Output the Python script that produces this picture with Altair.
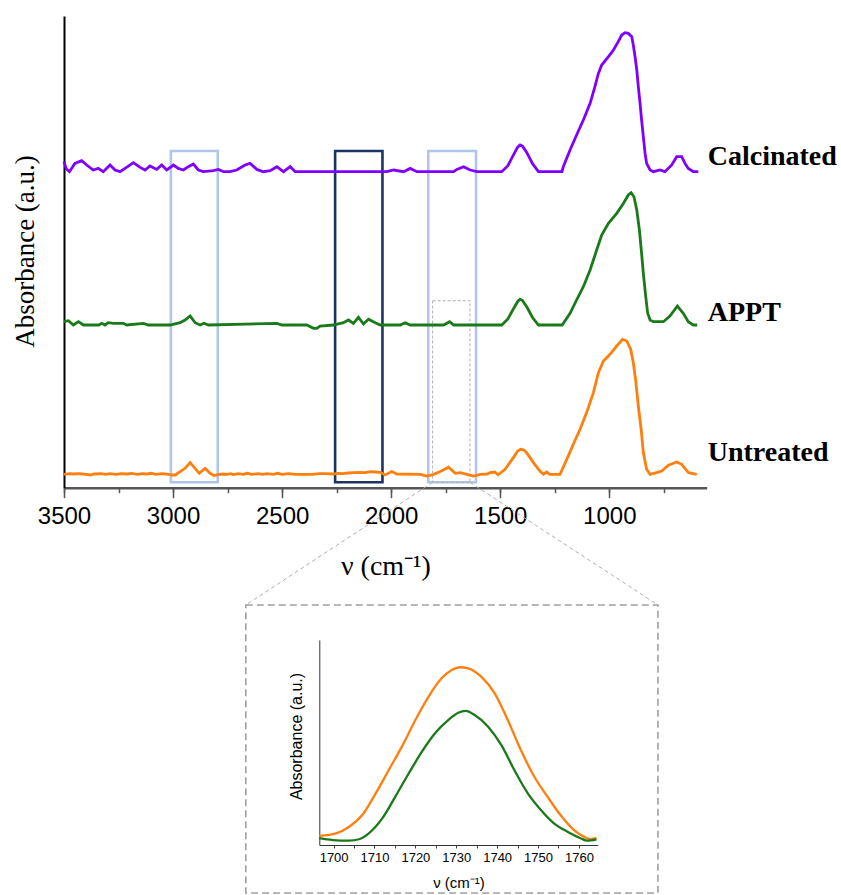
import altair as alt
import pandas as pd

# ---------------- data ----------------
# Main FTIR spectra: wavenumber (cm-1) and absorbance above each trace's own baseline (a.u.)
calc_nu = [3500, 3490, 3475, 3450, 3419, 3396, 3366, 3343, 3320, 3289,
           3266, 3243, 3220, 3182, 3151, 3128, 3106, 3075, 3052, 3029,
           2998, 2976, 2953, 2930, 2907, 2884, 2861, 2815, 2792, 2769,
           2739, 2708, 2670, 2647, 2616, 2586, 2555, 2524, 2494, 2463,
           2440, 2417, 2387, 2020, 1989, 1943, 1913, 1882, 1714, 1699,
           1668, 1638, 1607, 1493, 1465, 1440, 1420, 1409, 1398, 1378,
           1352, 1325, 1217, 1211, 1180, 1150, 1119, 1088, 1066, 1050,
           1035, 1004, 981, 959, 943, 928, 913, 897, 890, 882,
           874, 867, 859, 852, 844, 836, 829, 813, 798, 768,
           745, 714, 691, 668, 653, 638, 615, 592]
calc_abs = [10, 3, 0, 8.3, 11, 6.7, 1.7, 3.3, 0, 6.7,
            1.7, 0, 3.3, 9, 4.3, 1.7, 5.7, 2.3, 6.7, 1.7,
            6.7, 3.3, 1.7, 5, 7.7, 1.7, 0, 1, 2.3, 0,
            0, 1.7, 6.7, 8.3, 2.3, 0, 1, 5, 0, 5,
            0, 0, 0, 0, 1.7, 0, 3.3, 0, 0, 2.3,
            5, 1.7, 0, 0, 6, 16.5, 24.5, 26.7, 25.5, 19,
            8, 0, 0, 5, 21.7, 36.7, 51.7, 68.3, 85, 98.3,
            106.7, 115, 121.7, 130, 136.7, 139, 138.3, 135, 126.7, 115,
            101.7, 85, 68.3, 51.7, 35, 18.3, 8.3, 1.7, 0, 1.7,
            0, 6.7, 15, 15, 8.3, 3.3, 0, 0]

appt_nu = [3500, 3480, 3457, 3434, 3411, 3340, 3327, 3312, 3297, 3274,
           3250, 3228, 3213, 3136, 3113, 3014, 2968, 2945, 2922, 2899,
           2876, 2858, 2838, 2524, 2501, 2387, 2356, 2341, 2326, 2265,
           2219, 2196, 2173, 2150, 2127, 2104, 2073, 2050, 1959, 1936,
           1913, 1760, 1732, 1714, 1493, 1465, 1440, 1420, 1409, 1398,
           1378, 1352, 1325, 1216, 1180, 1150, 1119, 1088, 1058, 1035,
           1004, 966, 935, 913, 900, 887, 874, 862, 852, 844,
           833, 824, 813, 798, 752, 722, 688, 661, 638, 615,
           597]
appt_abs = [3.3, 4.3, 0, 3.3, 0, 0, 1.7, 0, 2.3, 1.7,
            1.7, 1.7, 0, 1.7, 0, 0, 2.3, 5, 9, 2.3,
            0, 1.7, 0, 1.7, 0, 0, -3.3, -3.3, -1, 0,
            2.3, 5, 1.7, 7.7, 1, 5.7, 2.3, 0, 0, 2.3,
            0, 0, 3.3, 0, 0, 6, 16, 23.5, 25.7, 24.5,
            18, 7.5, 0, 0, 11.7, 25, 38.3, 55, 75, 90,
            101.7, 111.7, 121.7, 130, 132.3, 128.3, 115, 95, 71.7, 51.7,
            28.3, 11.7, 5, 3.3, 3.3, 9, 19, 11.7, 3.3, 0,
            0]

untr_nu = [3500, 3475, 3457, 3430, 3400, 3380, 3360, 3330, 3310, 3290,
           3260, 3240, 3210, 3190, 3165, 3140, 3120, 3100, 3080, 3050,
           3020, 3006, 2990, 2968, 2945, 2922, 2899, 2880, 2853, 2830,
           2812, 2790, 2770, 2750, 2735, 2725, 2700, 2680, 2660, 2640,
           2610, 2590, 2570, 2540, 2520, 2500, 2470, 2440, 2420, 2360,
           2330, 2300, 2265, 2240, 2219, 2200, 2173, 2142, 2120, 2096,
           2073, 2050, 2028, 1997, 1974, 1867, 1836, 1806, 1775, 1737,
           1706, 1683, 1653, 1622, 1592, 1560, 1547, 1525, 1510, 1478,
           1440, 1420, 1406, 1392, 1379, 1348, 1318, 1302, 1287, 1272,
           1226, 1195, 1165, 1134, 1104, 1073, 1050, 1027, 997, 966,
           939, 920, 902, 890, 878, 867, 854, 844, 829, 813,
           783, 760, 729, 691, 668, 638, 599]
untr_abs = [0, 0.7, 0.3, 0.7, 0, -0.7, 0.3, 0.7, 0, 0.7,
            0, 0.7, 0.3, 1, 0, 0.7, 0.3, 1, 0, 0.7,
            0, -0.7, -0.7, 2.7, 6, 11.7, 6, 1, 6, 1,
            -1.3, 0, 0.3, 0, 0.7, -0.3, 0.7, 0, 1, 0,
            0.7, 0, 0.7, 0, 1, 0, 0.7, 0, 0, 0,
            0.7, 0.7, 0.3, 1, 0.7, 1.3, 1.7, 2, 1.7, 2.7,
            2.3, 2, -0.7, 2.7, 0.3, 0, -1.7, 0, 2.7, 7,
            1, 1.7, 0, -1.7, 0, 0.3, 1.7, 2.3, -0.5, 5,
            16.7, 23.3, 25, 24.3, 21.7, 11.7, 3.3, 0, 2.3, 0,
            0, 15, 30, 45, 61.7, 81.7, 101.7, 113.3, 120, 128.3,
            135, 133.3, 125, 111.7, 91.7, 68.3, 45, 21.7, 5, 0,
            1.7, 3.3, 9, 12.3, 10, 1.7, 0]

series_names = ["Calcinated", "APPT", "Untreated"]
series_colors = ["#8000ff", "#1a7a1a", "#ff7f0e"]
series_offsets = [316, 162.7, 13.4]          # vertical stacking of the traces
label_y = [331, 174.7, 34.7]

# Inset (carbonyl band) spectra
inset_untr_nu = [1696.5, 1700.6, 1703.8, 1707.0, 1710.3, 1713.5, 1716.7, 1720.0, 1723.2, 1726.4,
                 1728.9, 1730.9, 1732.9, 1736.1, 1739.4, 1742.6, 1745.8, 1749.1, 1752.3, 1755.5,
                 1758.8, 1761.2, 1762.8, 1764.3]
inset_untr_abs = [0.045, 0.057, 0.089, 0.146, 0.252, 0.366, 0.480, 0.610, 0.723, 0.813,
                  0.854, 0.867, 0.862, 0.821, 0.740, 0.610, 0.463, 0.333, 0.236, 0.146,
                  0.073, 0.041, 0.029, 0.033]
inset_appt_nu = [1696.5, 1699.8, 1703.8, 1706.2, 1708.6, 1711.9, 1715.1, 1718.4, 1721.6, 1724.8,
                 1728.1, 1730.5, 1732.3, 1734.5, 1737.8, 1741.0, 1744.2, 1747.5, 1750.7, 1753.9,
                 1757.2, 1760.4, 1762.0, 1764.3]
inset_appt_abs = [0.033, 0.024, 0.021, 0.028, 0.057, 0.130, 0.236, 0.350, 0.455, 0.545,
                  0.610, 0.645, 0.654, 0.634, 0.577, 0.488, 0.366, 0.252, 0.171, 0.106,
                  0.065, 0.033, 0.021, 0.028]

# Axis tick values
main_minor_ticks = list(range(3500, 749, -250))
main_major_ticks = list(range(3500, 999, -500))
inset_ticks = list(range(1700, 1761, 5))

# Highlight boxes on the main plot (wavenumber limits)
box_nu_left = [3010, 2257, 1830]
box_nu_right = [2795, 2040, 1611]
box_colors = ["#aec6ea", "#1c3461", "#aec6ea"]
box_top, box_bottom = 336.7, 5.4
zoom_nu = [1810, 1639]           # small dashed box (zoomed region)
zoom_top = 187
frame_nu = [2666.5, 777]         # inset frame, in main-plot coordinates
frame_y = [-117.3, -405.3]

for a, b in [(calc_nu, calc_abs), (appt_nu, appt_abs), (untr_nu, untr_abs),
             (inset_untr_nu, inset_untr_abs), (inset_appt_nu, inset_appt_abs)]:
    assert len(a) == len(b), (len(a), len(b))

# ---------------- layout ----------------
W, H = 841, 895
MX0, MX1 = 64, 706.7
MY0, MY1 = 487.7, 16
IX0, IX1 = 319.3, 597.7
IY0, IY1 = 845, 640


def xs():
    return alt.Scale(domain=[3500, 553.5], range=[MX0, MX1], nice=False, zero=False)


def ys():
    return alt.Scale(domain=[0, MY0 - MY1], range=[MY0, MY1], nice=False, zero=False)


xs_in = alt.Scale(domain=[1696.5, 1764.6], range=[IX0, IX1], nice=False, zero=False)
ys_in = alt.Scale(domain=[0, 1], range=[IY0, IY1], nice=False, zero=False)

rows = []
for name, nus, abss, off in zip(series_names, [calc_nu, appt_nu, untr_nu],
                                [calc_abs, appt_abs, untr_abs], series_offsets):
    for i, (n, a) in enumerate(zip(nus, abss)):
        rows.append({"series": name, "nu": n, "y": a + off, "i": i})
spec = pd.DataFrame(rows)

irows = []
for name, nus, abss in [("Untreated", inset_untr_nu, inset_untr_abs),
                        ("APPT", inset_appt_nu, inset_appt_abs)]:
    for i, (n, a) in enumerate(zip(nus, abss)):
        irows.append({"series": name, "nu": n, "a": a, "i": i})
ispec = pd.DataFrame(irows)

x_axis = alt.Axis(
    orient="bottom", offset=-(H - MY0), values=main_minor_ticks, format="d",
    labelExpr="datum.value % 500 === 0 ? datum.label : ''",
    tickSize=5, tickColor="#555555", tickWidth=1.5,
    domainColor="#555555", domainWidth=2.5,
    labelFont="Liberation Sans", labelFontSize=24, labelColor="black", labelPadding=12,
    labelOverlap=False, labelFlush=False, labelBound=False,
    title="ν (cm⁻¹)", titleFont="Liberation Serif", titleFontSize=28,
    titleFontWeight="normal", titleColor="black", titleY=79, titleBaseline="middle",
    grid=False)
x_axis_major = alt.Axis(
    orient="bottom", offset=-(H - MY0), values=main_major_ticks,
    labels=False, domain=False, tickSize=10, tickColor="#555555", tickWidth=1.5,
    title=None, grid=False)
y_axis = alt.Axis(
    orient="left", offset=-MX0, ticks=False, labels=False,
    domainColor="black", domainWidth=2,
    title="Absorbance (a.u.)", titleFont="Liberation Serif", titleFontSize=27,
    titleFontWeight="normal", titleColor="black", titleAngle=270,
    titleX=-39, titleY=251, titleAlign="center", titleBaseline="middle", grid=False)

lines = alt.Chart(spec).mark_line(strokeWidth=2.8).encode(
    x=alt.X("nu:Q", scale=xs(), axis=x_axis),
    y=alt.Y("y:Q", scale=ys(), axis=y_axis),
    color=alt.Color("series:N", scale=alt.Scale(domain=series_names, range=series_colors), legend=None),
    detail="series:N",
    order="i:Q",
)

boxes_df = pd.DataFrame({"x1": box_nu_left, "x2": box_nu_right, "c": box_colors,
                         "y1": [box_bottom] * 3, "y2": [box_top] * 3})
boxes = alt.Chart(boxes_df).mark_rect(fillOpacity=0, strokeWidth=2.6).encode(
    x=alt.X("x1:Q", scale=xs(), axis=None), x2="x2:Q",
    y=alt.Y("y1:Q", scale=ys(), axis=None), y2="y2:Q",
    stroke=alt.Stroke("c:N", scale=None),
)

zoom_df = pd.DataFrame({"x1": [zoom_nu[0]], "x2": [zoom_nu[1]], "y1": [box_bottom], "y2": [zoom_top]})
zoom_box = alt.Chart(zoom_df).mark_rect(fillOpacity=0, stroke="#b0b0b0", strokeWidth=1,
                                        strokeDash=[3, 2]).encode(
    x=alt.X("x1:Q", scale=xs(), axis=None), x2="x2:Q",
    y=alt.Y("y1:Q", scale=ys(), axis=None), y2="y2:Q",
)

frame_df = pd.DataFrame({"x1": [frame_nu[0]], "x2": [frame_nu[1]], "y1": [frame_y[0]], "y2": [frame_y[1]]})
frame = alt.Chart(frame_df).mark_rect(fillOpacity=0, stroke="#a0a0a0", strokeWidth=1.6,
                                      strokeDash=[7, 4]).encode(
    x=alt.X("x1:Q", scale=xs(), axis=None), x2="x2:Q",
    y=alt.Y("y1:Q", scale=ys(), axis=None), y2="y2:Q",
)

conn_df = pd.DataFrame({"x1": zoom_nu, "x2": frame_nu, "y1": [box_bottom] * 2, "y2": [frame_y[0]] * 2})
connectors = alt.Chart(conn_df).mark_rule(stroke="#b0b0b0", strokeWidth=1, strokeDash=[4, 3]).encode(
    x=alt.X("x1:Q", scale=xs(), axis=None), x2="x2:Q",
    y=alt.Y("y1:Q", scale=ys(), axis=None), y2="y2:Q",
)

lab_df = pd.DataFrame({"series": series_names, "nu": [553.5] * 3, "y": label_y})
labels = alt.Chart(lab_df).mark_text(font="Liberation Serif", fontSize=28, fontWeight="bold",
                                     align="left", baseline="middle", dx=1, color="black").encode(
    x=alt.X("nu:Q", scale=xs(), axis=x_axis_major),
    y=alt.Y("y:Q", scale=ys(), axis=None),
    text="series:N",
)

ix_axis = alt.Axis(
    orient="bottom", offset=-(H - IY0), values=inset_ticks, format="d",
    labelExpr="datum.value % 10 === 0 ? datum.label : ''",
    tickSize=3, tickColor="#444444", tickWidth=1, domainColor="#333333", domainWidth=1,
    labelFont="Liberation Sans Narrow, Liberation Sans", labelFontSize=13, labelColor="black",
    labelPadding=3, labelOverlap=False, labelFlush=False, labelBound=False,
    title="ν (cm⁻¹)", titleFont="Liberation Sans", titleFontSize=15, titleFontWeight="normal",
    titleColor="black", titleY=37, titleBaseline="middle", grid=False)
iy_axis = alt.Axis(
    orient="left", offset=-IX0, ticks=False, labels=False, domainColor="#333333", domainWidth=1,
    title="Absorbance (a.u.)", titleFont="Liberation Sans", titleFontSize=16,
    titleFontWeight="normal", titleColor="black", titleAngle=270,
    titleX=-23, titleY=736, titleAlign="center", titleBaseline="middle", grid=False)

inset = alt.Chart(ispec).mark_line(strokeWidth=2.3, interpolate="monotone", clip=True).encode(
    x=alt.X("nu:Q", scale=xs_in, axis=ix_axis),
    y=alt.Y("a:Q", scale=ys_in, axis=iy_axis),
    color=alt.Color("series:N", scale=alt.Scale(domain=series_names, range=series_colors), legend=None),
    detail="series:N",
    order="i:Q",
)

chart = (
    alt.layer(boxes, zoom_box, frame, connectors, lines, labels, inset)
    .resolve_scale(x="independent", y="independent", color="independent", stroke="independent")
    .resolve_axis(x="independent", y="independent")
    .properties(width=W, height=H, autosize=alt.AutoSizeParams(type="none"), padding=0)
    .configure_view(stroke=None)
    .configure_axis(grid=False)
)

chart.save("out.html", embed_options={"renderer": "svg", "actions": False})
